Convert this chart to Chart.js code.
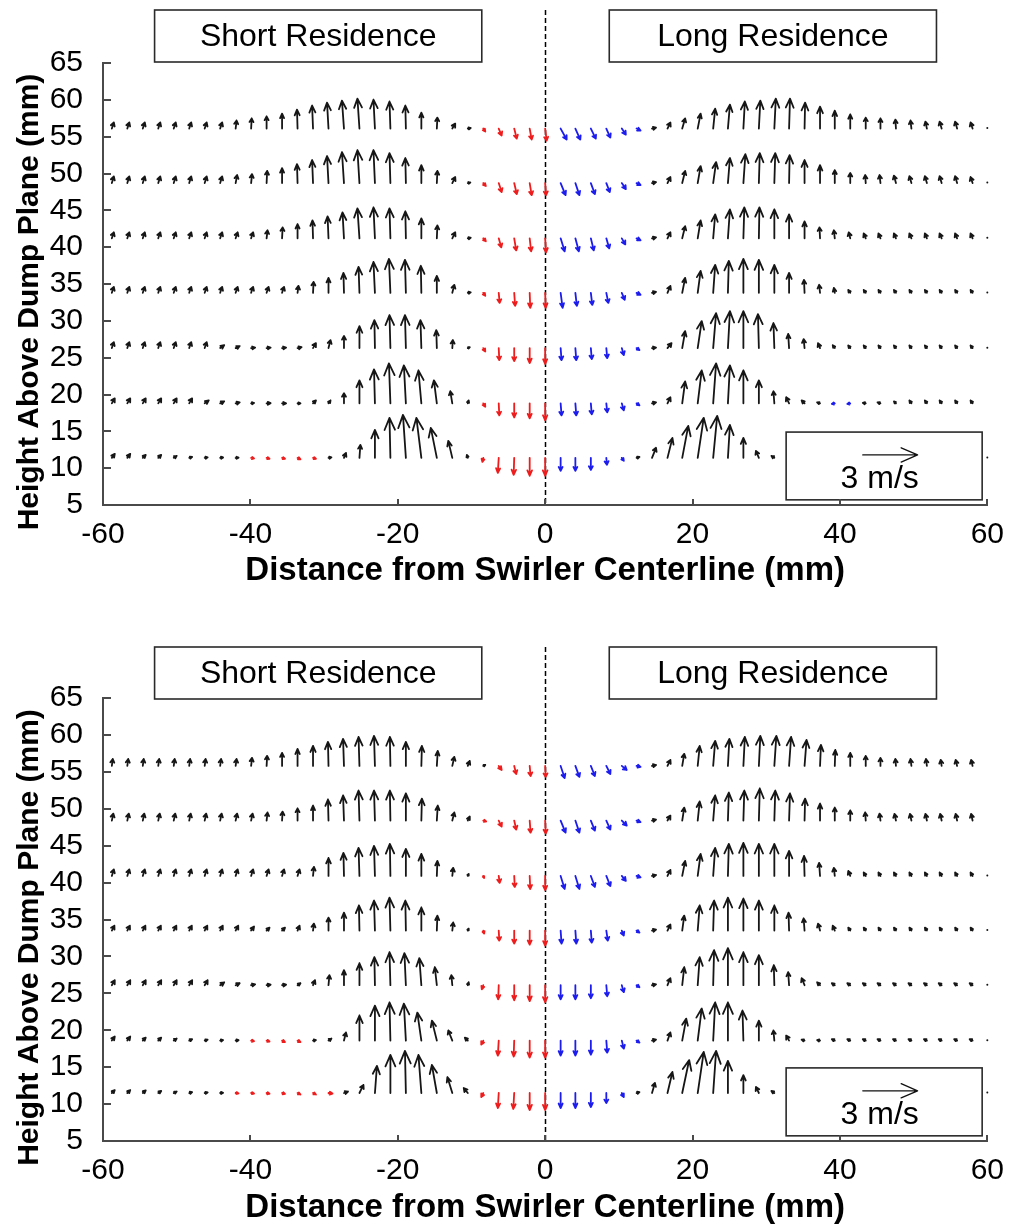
<!DOCTYPE html>
<html>
<head>
<meta charset="utf-8">
<script src="https://cdn.jsdelivr.net/npm/chart.js@4"></script>
<style>
  html, body { margin: 0; padding: 0; background: #ffffff; }
  #wrap { position: relative; width: 1016px; height: 1228px; background: #ffffff; }
  canvas { position: absolute; left: 0; }
</style>
</head>
<body>
<div id="wrap">
  <canvas id="topPanel" width="1016" height="637" style="top:0px"></canvas>
  <canvas id="bottomPanel" width="1016" height="591" style="top:637px"></canvas>
</div>
<script>
// ---------------------------------------------------------------
// Velocity field data (PIV grid), velocities in m/s
// ---------------------------------------------------------------

// Radial measurement positions (mm)
const xGrid = [
  -58.8, -56.7, -54.6, -52.5, -50.4, -48.3, -46.2, -44.1, -42.0, -39.9,
  -37.8, -35.7, -33.6, -31.5, -29.4, -27.3, -25.2, -23.1, -21.0, -18.9,
  -16.8, -14.7, -12.6, -10.5, -8.4, -6.3, -4.2, -2.1, 0,
  2.1, 4.1, 6.2, 8.3, 10.4, 12.4, 14.5, 16.6, 18.6, 20.7,
  22.8, 24.8, 26.9, 29.0, 31.1, 33.1, 35.2, 37.3, 39.3, 41.4,
  43.5, 45.5, 47.6, 49.7, 51.8, 53.8, 55.9, 58.0, 60.0
];

// Measurement heights above the dump plane (mm)
const topRowHeights = [56.1, 48.7, 41.2, 33.8, 26.3, 18.8, 11.4];
const bottomRowHeights = [55.8, 48.4, 40.9, 33.5, 26.1, 18.6, 11.5];

// Axis ticks
const xTickValues = [-60, -40, -20, 0, 20, 40, 60];
const yTickValues = [5, 10, 15, 20, 25, 30, 35, 40, 45, 50, 55, 60, 65];

// Labels
const leftCaseLabel = 'Short Residence';
const rightCaseLabel = 'Long Residence';
const xAxisTitle = 'Distance from Swirler Centerline (mm)';
const yAxisTitle = 'Height Above Dump Plane (mm)';
const referenceSpeed = 3; // m/s
const referenceLabel = '3 m/s';

// ---------------- Upper figure ----------------
const topU1 = [0.11,0.11,0.11,0.11,0.11,0.11,0.11,0.11,0.05,0.03,0,0,-0.03,-0.05,-0.08,-0.11,-0.11,-0.08,-0.05,-0.03,0,0.03,0.16,0.16,0.11,0.16,0.14,0.11,0.08,
  0.33,0.27,0.27,0.22,0.22,0.22,0.22,0.16,0.16,0.16,0.11,0.11,0.08,0.08,0.08,0.05,0.03,0,0,0,0,0,-0.03,-0.05,-0.08,-0.11,-0.11,-0.11,0];
const topV1 = [0.33,0.33,0.33,0.33,0.33,0.33,0.33,0.33,0.44,0.55,0.66,0.82,1.04,1.26,1.42,1.53,1.64,1.58,1.48,1.26,0.87,0.6,0.27,0.03,-0.16,-0.38,-0.55,-0.6,-0.66,
  -0.6,-0.6,-0.55,-0.49,-0.33,-0.11,0.05,0.33,0.55,0.82,1.09,1.31,1.48,1.53,1.64,1.64,1.42,1.2,0.98,0.77,0.6,0.55,0.49,0.44,0.38,0.38,0.38,0.33,0.05];

const topU2 = [0.11,0.11,0.11,0.11,0.11,0.11,0.11,0.11,0.08,0.05,0.03,0,-0.03,-0.05,-0.08,-0.11,-0.11,-0.08,-0.05,-0.03,0,0.03,0.16,0.14,0.14,0.16,0.14,0.11,0.05,
  0.27,0.22,0.22,0.19,0.22,0.22,0.22,0.16,0.16,0.16,0.16,0.11,0.11,0.05,0.05,0.03,0,0,0,0,-0.03,-0.05,-0.11,-0.11,-0.11,-0.11,-0.11,-0.11,0];
const topV2 = [0.36,0.36,0.36,0.36,0.36,0.36,0.36,0.36,0.44,0.49,0.66,0.82,1.04,1.26,1.48,1.69,1.8,1.8,1.64,1.37,0.98,0.66,0.33,0.03,-0.16,-0.49,-0.6,-0.66,-0.66,
  -0.66,-0.66,-0.6,-0.49,-0.33,-0.11,0.05,0.33,0.66,0.93,1.15,1.37,1.58,1.64,1.64,1.53,1.26,0.98,0.71,0.55,0.44,0.44,0.41,0.38,0.38,0.38,0.38,0.33,0.05];

const topU3 = [0.11,0.11,0.11,0.11,0.11,0.11,0.11,0.11,0.11,0.11,0.05,0.03,0,-0.03,-0.05,-0.08,-0.11,-0.08,-0.05,-0.03,0,0.03,0.16,0.16,0.14,0.14,0.11,0.08,0.05,
  0.22,0.19,0.16,0.16,0.19,0.22,0.22,0.16,0.16,0.16,0.11,0.11,0.05,0.03,0,0,0,-0.03,-0.05,-0.08,-0.11,-0.11,-0.11,-0.11,-0.11,-0.11,-0.11,-0.11,0];
const topV3 = [0.33,0.33,0.33,0.33,0.33,0.33,0.33,0.33,0.33,0.33,0.44,0.6,0.77,0.98,1.2,1.42,1.64,1.69,1.64,1.48,1.09,0.71,0.33,0.03,-0.16,-0.49,-0.66,-0.71,-0.77,
  -0.71,-0.71,-0.66,-0.55,-0.33,-0.11,0.05,0.33,0.66,0.98,1.31,1.58,1.69,1.69,1.58,1.31,0.93,0.6,0.44,0.33,0.27,0.27,0.27,0.27,0.27,0.27,0.27,0.27,0.05];

const topU4 = [0.11,0.11,0.11,0.11,0.11,0.11,0.11,0.11,0.11,0.11,0.11,0.11,0.05,0.03,0,-0.03,-0.05,-0.08,-0.08,-0.05,-0.03,0,0.11,0.16,0.11,0.05,0.05,0.03,0.03,
  0.11,0.08,0.08,0.11,0.16,0.22,0.22,0.16,0.16,0.16,0.11,0.05,0,0,0,0,-0.03,-0.05,-0.05,-0.11,-0.11,-0.11,-0.11,-0.11,-0.11,-0.11,-0.11,-0.11,0];
const topV4 = [0.33,0.33,0.33,0.33,0.33,0.33,0.33,0.33,0.33,0.33,0.33,0.33,0.38,0.6,0.82,1.09,1.42,1.69,1.86,1.8,1.48,0.93,0.44,0.03,-0.16,-0.55,-0.71,-0.82,-0.82,
  -0.82,-0.71,-0.66,-0.55,-0.38,-0.11,0.05,0.38,0.82,1.2,1.53,1.75,1.86,1.8,1.53,1.09,0.71,0.44,0.27,0.16,0.16,0.16,0.16,0.16,0.16,0.16,0.16,0.16,0.05];

const topU5 = [0.11,0.11,0.11,0.11,0.11,0.11,0.11,0.22,0.22,0.22,0.22,0.22,0.22,0.16,0.11,0,0,-0.03,-0.05,-0.05,-0.05,-0.03,0.03,0.11,0.11,0.03,0,0,0,
  0.05,0.05,0.05,0.05,0.11,0.16,0.22,0.22,0.16,0.22,0.16,0.11,0,-0.05,-0.05,-0.05,-0.05,-0.11,-0.11,-0.11,-0.11,-0.11,-0.11,-0.11,-0.11,-0.11,-0.11,-0.11,0];
const topV5 = [0.33,0.33,0.33,0.33,0.33,0.33,0.33,0.16,0.11,0.03,0.03,0.03,0.05,0.27,0.44,0.66,1.2,1.53,1.8,1.8,1.53,0.98,0.44,0.05,-0.19,-0.66,-0.71,-0.82,-0.87,
  -0.66,-0.66,-0.6,-0.55,-0.38,-0.11,0.03,0.27,0.93,1.48,1.91,2.02,2.02,1.86,1.37,0.77,0.49,0.27,0.16,0.14,0.14,0.14,0.14,0.14,0.14,0.14,0.14,0.14,0.05];

const topU6 = [0.16,0.16,0.16,0.16,0.16,0.16,0.22,0.22,0.22,0.16,0.22,0.22,0.16,0.16,0.11,0,0,-0.05,-0.08,-0.11,-0.16,-0.16,-0.11,0.05,0.11,0.03,0,0,0,
  0.05,0.05,0.05,0.05,0.11,0.16,0.22,0.16,0.16,0.22,0.16,0.11,0,0,-0.05,-0.16,-0.16,-0.16,-0.16,-0.16,-0.16,-0.16,-0.11,-0.11,-0.11,-0.11,-0.11,-0.11,null];
const topV6 = [0.27,0.27,0.27,0.27,0.27,0.27,0.16,0.11,0.05,0.02,0.01,0,0,0.16,0.16,0.55,1.26,1.86,2.19,2.08,1.8,1.26,0.66,0.16,-0.19,-0.66,-0.77,-0.82,-0.93,
  -0.66,-0.66,-0.6,-0.49,-0.38,-0.11,0.05,0.33,1.2,1.8,2.19,2.08,1.8,1.26,0.66,0.33,0.16,0.05,-0.03,-0.03,0.03,0.05,0.11,0.16,0.16,0.16,0.16,0.16,null];

const topU7 = [0.16,0.16,0.16,0.16,0.16,0.16,0.16,0.16,0.16,0.16,0.16,0.16,0.16,0.16,0.16,0.11,0.05,0,-0.05,-0.16,-0.27,-0.33,-0.22,-0.05,-0.05,-0.05,-0.03,0,0,
  0,0,0,0.03,0.11,0.16,0.22,0.27,0.33,0.33,0.22,0.11,0,-0.16,-0.16,-0.11,-0.11,-0.11,-0.11,-0.11,-0.11,-0.11,-0.11,-0.11,-0.11,-0.11,-0.11,-0.11,0];
const topV7 = [0.22,0.22,0.16,0.16,0.11,0.05,0.03,0.02,0.01,-0.03,-0.05,-0.05,-0.08,-0.05,0.03,0.27,0.71,1.53,2.19,2.35,2.19,1.64,0.93,0.16,-0.22,-0.82,-0.93,-0.98,-0.98,
  -0.71,-0.71,-0.66,-0.38,-0.16,0.05,0.55,1.09,1.75,2.19,2.3,1.8,1.09,0.38,0.11,0.11,0.11,0.11,0.11,0.11,0.11,0.11,0.11,0.11,0.11,0.11,0.11,0.11,0.05];

// ---------------- Lower figure ----------------
const botU1 = [0.05,0.05,0.05,0.05,0.05,0.05,0.05,0.05,0.05,0.05,0.03,0,0,0,-0.03,-0.05,-0.05,-0.05,-0.03,0,0.03,0.05,0.11,0.11,0.11,0.16,0.11,0.05,0.03,
  0.22,0.22,0.22,0.22,0.27,0.22,0.22,0.16,0.11,0.11,0.11,0.08,0.08,0.08,0.11,0.11,0.11,0.05,0.03,0,0,0,-0.03,-0.05,-0.05,-0.05,-0.08,-0.08,null];
const botV1 = [0.38,0.38,0.38,0.38,0.38,0.38,0.38,0.38,0.38,0.44,0.55,0.71,0.93,1.09,1.31,1.48,1.58,1.64,1.58,1.31,1.09,0.82,0.49,0.27,0.05,-0.22,-0.44,-0.55,-0.6,
  -0.66,-0.6,-0.55,-0.44,-0.22,-0.05,0.05,0.33,0.66,1.09,1.37,1.48,1.58,1.64,1.64,1.58,1.42,1.15,0.87,0.71,0.55,0.44,0.38,0.38,0.38,0.33,0.33,0.33,null];

const botU2 = [0.08,0.08,0.08,0.08,0.08,0.08,0.08,0.08,0.08,0.08,0.05,0.03,0,0,-0.03,-0.05,-0.05,-0.05,-0.03,0,0.03,0.05,0.11,0.11,0.16,0.16,0.11,0.05,0.03,
  0.27,0.22,0.22,0.22,0.27,0.22,0.22,0.16,0.11,0.11,0.11,0.05,0.05,0.05,0.05,0.05,0.03,0,0,0,-0.03,-0.05,-0.08,-0.08,-0.08,-0.08,-0.08,-0.08,null];
const botV2 = [0.38,0.38,0.38,0.38,0.38,0.38,0.38,0.38,0.38,0.38,0.44,0.49,0.66,0.82,1.15,1.37,1.64,1.64,1.64,1.48,1.2,0.82,0.44,0.22,-0.05,-0.33,-0.49,-0.66,-0.71,
  -0.66,-0.66,-0.55,-0.49,-0.27,-0.08,0.05,0.27,0.71,1.04,1.37,1.53,1.64,1.75,1.64,1.48,1.2,0.93,0.71,0.55,0.44,0.38,0.36,0.36,0.36,0.36,0.36,0.36,null];

const botU3 = [0.11,0.11,0.11,0.11,0.11,0.11,0.11,0.11,0.11,0.11,0.11,0.11,0.11,0.05,0,-0.03,-0.05,-0.05,-0.03,0,0,0.03,0.05,0.05,0.05,0.05,0.03,0.03,0,
  0.22,0.22,0.22,0.22,0.22,0.22,0.22,0.16,0.16,0.16,0.11,0.05,0,0,0,0,-0.03,-0.05,-0.05,-0.11,-0.11,-0.11,-0.11,-0.11,-0.11,-0.11,-0.11,-0.11,0];
const botV3 = [0.36,0.36,0.36,0.36,0.36,0.36,0.36,0.36,0.36,0.36,0.36,0.36,0.36,0.49,0.98,1.26,1.53,1.64,1.75,1.48,1.2,0.82,0.44,0.11,-0.11,-0.38,-0.6,-0.71,-0.77,
  -0.71,-0.71,-0.6,-0.55,-0.27,-0.08,0.05,0.33,0.82,1.2,1.53,1.75,1.8,1.75,1.75,1.37,1.09,0.71,0.44,0.27,0.19,0.19,0.19,0.19,0.19,0.19,0.19,0.19,0.05];

const botU4 = [0.14,0.14,0.14,0.14,0.14,0.14,0.14,0.14,0.14,0.16,0.16,0.16,0.11,0.05,0,0,-0.03,-0.05,-0.05,-0.03,0,0.03,0.05,0.05,0.05,0.03,0,0,0,
  0.05,0.05,0.05,0.08,0.11,0.16,0.22,0.16,0.11,0.11,0.05,0,0,0,0,-0.03,-0.05,-0.11,-0.11,-0.11,-0.11,-0.11,-0.11,-0.11,-0.11,-0.11,-0.11,-0.11,0];
const botV4 = [0.27,0.27,0.27,0.27,0.27,0.27,0.27,0.27,0.27,0.22,0.16,0.16,0.27,0.38,0.71,0.98,1.37,1.64,1.8,1.64,1.26,0.82,0.44,0.11,-0.16,-0.55,-0.71,-0.77,-0.82,
  -0.71,-0.71,-0.66,-0.55,-0.27,-0.11,0.05,0.33,0.82,1.37,1.64,1.8,1.75,1.64,1.37,0.98,0.66,0.38,0.27,0.16,0.16,0.16,0.16,0.16,0.16,0.16,0.16,0.16,0.05];

const botU5 = [0.16,0.16,0.16,0.16,0.16,0.16,0.16,0.22,0.22,0.22,0.22,0.22,0.16,0.11,0.05,0,0,-0.03,-0.05,-0.08,-0.11,-0.11,-0.05,0.05,-0.08,-0.03,0,0,0,
  0,0,0,0.05,0.11,0.16,0.22,0.16,0.11,0.11,0.05,0,0,0,-0.03,-0.05,-0.16,-0.16,-0.16,-0.16,-0.16,-0.16,-0.16,-0.16,-0.16,-0.16,-0.16,-0.16,0];
const botV5 = [0.27,0.27,0.27,0.27,0.27,0.27,0.27,0.16,0.11,0.05,0.03,0.03,0.11,0.27,0.55,0.82,1.2,1.53,1.8,1.75,1.48,0.98,0.55,0.16,-0.22,-0.77,-0.82,-0.87,-0.93,
  -0.77,-0.77,-0.71,-0.6,-0.38,-0.11,0.05,0.38,0.98,1.53,1.91,2.02,1.8,1.64,1.09,0.71,0.38,0.16,0.11,0.11,0.11,0.11,0.11,0.11,0.11,0.11,0.11,0.11,0.05];

const botU6 = [0.16,0.16,0.16,0.16,0.16,0.16,0.16,0.16,0.16,0.16,0.16,0.16,0.16,0.16,0.16,0.11,0,0,-0.05,-0.11,-0.22,-0.27,-0.22,-0.16,-0.11,-0.05,-0.03,0,0,
  0,0,0,0.05,0.11,0.16,0.22,0.16,0.22,0.22,0.11,0,-0.05,0,-0.05,-0.16,-0.16,-0.16,-0.16,-0.16,-0.16,-0.16,-0.16,-0.16,-0.16,-0.16,-0.16,-0.16,0];
const botV6 = [0.22,0.22,0.16,0.16,0.11,0.08,0.05,0.03,0.02,-0.03,-0.05,-0.08,-0.08,0.03,0.11,0.44,1.37,1.91,2.08,2.02,1.53,1.09,0.55,0.16,-0.22,-0.82,-0.87,-0.93,-0.93,
  -0.82,-0.82,-0.77,-0.66,-0.44,-0.11,0.05,0.44,1.2,1.75,2.08,2.08,1.64,1.09,0.55,0.27,0.05,0.03,0.08,0.08,0.08,0.08,0.08,0.08,0.08,0.08,0.08,0.08,0.05];

const botU7 = [0.16,0.16,0.16,0.16,0.16,0.16,0.16,0.16,0.16,0.16,0.16,0.16,0.16,0.16,0.22,0.22,0.22,0.11,0,-0.05,-0.16,-0.27,-0.27,-0.22,-0.11,-0.05,-0.05,0,0,
  0,0,0,0,0.11,0.16,0.16,0.27,0.38,0.33,0.16,0,0,-0.16,-0.16,-0.11,-0.11,-0.11,-0.11,-0.11,-0.11,-0.11,-0.11,-0.11,-0.11,-0.11,-0.11,-0.11,0];
const botV7 = [0.16,0.16,0.14,0.11,0.08,0.05,0.03,0.01,-0.02,-0.03,-0.04,-0.05,-0.08,-0.08,-0.03,0.08,0.44,1.48,2.08,2.3,2.08,1.53,0.87,0.27,-0.22,-0.82,-0.87,-0.93,-0.93,
  -0.82,-0.82,-0.77,-0.55,-0.22,0.05,0.55,1.15,1.8,2.24,2.3,1.75,0.98,0.33,0.11,0.11,0.11,0.11,0.11,0.11,0.11,0.11,0.11,0.11,0.11,0.11,0.11,0.11,0.05];

// ---------------------------------------------------------------
// Drawing
// ---------------------------------------------------------------
const FONT = "'Liberation Sans', Arial, Helvetica, sans-serif";
const MM_PER_MPS = 7.44 / 3;          // vector length (axis units) of 1 m/s
const COLOR_UP = '#161616';
const COLOR_DOWN_LEFT = '#ee1c1c';
const COLOR_DOWN_RIGHT = '#1c1cee';
const AXIS_COLOR = '#4a4a4a';

function drawVector(ctx, x0, y0, x1, y1, color, width) {
  const dx = x1 - x0, dy = y1 - y0;
  const len = Math.hypot(dx, dy);
  ctx.strokeStyle = color;
  ctx.fillStyle = color;
  ctx.lineWidth = width;
  ctx.lineCap = 'round';
  ctx.lineJoin = 'round';
  if (len < 1.5) {
    ctx.beginPath();
    ctx.arc(x0 + dx / 2, y0 + dy / 2, 1.0, 0, Math.PI * 2);
    ctx.fill();
    return;
  }
  const ex = dx / len, ey = dy / len;
  const nx = -ey, ny = ex;
  const head = Math.max(0.3 * len, Math.min(3.5, 0.7 * len));
  const half = Math.max(0.13 * len, Math.min(2.0, 0.35 * len));
  const bx = x1 - ex * head, by = y1 - ey * head;
  ctx.beginPath();
  ctx.moveTo(x0, y0);
  ctx.lineTo(x1, y1);
  ctx.moveTo(bx + nx * half, by + ny * half);
  ctx.lineTo(x1, y1);
  ctx.lineTo(bx - nx * half, by - ny * half);
  ctx.stroke();
}

function vectorColor(x, v) {
  if (v < 0) return x <= 0 ? COLOR_DOWN_LEFT : COLOR_DOWN_RIGHT;
  return COLOR_UP;
}

function drawBoxedText(ctx, x0, y0, x1, y1, text, size) {
  ctx.save();
  ctx.fillStyle = '#ffffff';
  ctx.fillRect(x0, y0, x1 - x0, y1 - y0);
  ctx.strokeStyle = '#2a2a2a';
  ctx.lineWidth = 1.6;
  ctx.strokeRect(x0, y0, x1 - x0, y1 - y0);
  if (text) {
    ctx.fillStyle = '#000';
    ctx.font = size + 'px ' + FONT;
    ctx.textAlign = 'center';
    ctx.textBaseline = 'middle';
    ctx.fillText(text, (x0 + x1) / 2, (y0 + y1) / 2 + 1);
  }
  ctx.restore();
}

function buildPanel(cfg) {
  const canvas = document.getElementById(cfg.id);
  const datasets = cfg.rows.map((y, r) => ({
    label: 'z = ' + y + ' mm',
    data: xGrid.map((x, i) => ({ x: x, y: y, u: cfg.u[r][i], v: cfg.v[r][i] })),
    pointRadius: 0,
    pointHoverRadius: 0,
    showLine: false
  }));

  const quiverPlugin = {
    id: 'quiver',
    beforeDatasetsDraw(chart) {
      const { ctx, chartArea, scales: { x: xs } } = chart;
      // centerline
      const cx = Math.round(xs.getPixelForValue(0)) + 0.5;
      ctx.save();
      ctx.strokeStyle = '#000';
      ctx.lineWidth = 1.5;
      ctx.setLineDash([5, 3]);
      ctx.beginPath();
      ctx.moveTo(cx, cfg.captionTop);
      ctx.lineTo(cx, chartArea.bottom);
      ctx.stroke();
      ctx.restore();
    },
    afterDatasetsDraw(chart) {
      const { ctx, scales: { x: xs, y: ys } } = chart;
      ctx.save();
      chart.data.datasets.forEach(ds => {
        ds.data.forEach(p => {
          if (p.u === null || p.v === null) return;
          const x0 = xs.getPixelForValue(p.x);
          const y0 = ys.getPixelForValue(p.y);
          const x1 = xs.getPixelForValue(p.x + p.u * MM_PER_MPS);
          const y1 = ys.getPixelForValue(p.y + p.v * MM_PER_MPS);
          drawVector(ctx, x0, y0, x1, y1, vectorColor(p.x, p.v), 1.8);
        });
      });
      ctx.restore();

      // reference vector box
      const bx0 = xs.getPixelForValue(32.7), bx1 = xs.getPixelForValue(59.3);
      const by0 = ys.getPixelForValue(14.9), by1 = ys.getPixelForValue(5.7);
      drawBoxedText(ctx, bx0, by0, bx1, by1, '', 0);
      const rx0 = xs.getPixelForValue(43.1), ry = ys.getPixelForValue(11.8);
      const rx1 = xs.getPixelForValue(43.1 + referenceSpeed * MM_PER_MPS);
      ctx.save();
      drawVector(ctx, rx0, ry, rx1, ry, '#111', 1.3);
      ctx.fillStyle = '#000';
      ctx.font = '32px ' + FONT;
      ctx.textAlign = 'center';
      ctx.textBaseline = 'middle';
      ctx.fillText(referenceLabel, xs.getPixelForValue(45.4), ys.getPixelForValue(8.5));
      ctx.restore();
    },
    afterDraw(chart) {
      const { ctx, chartArea, scales: { x: xs, y: ys } } = chart;
      ctx.save();
      // inward tick marks
      ctx.strokeStyle = AXIS_COLOR;
      ctx.lineWidth = 2;
      ctx.beginPath();
      yTickValues.forEach(v => {
        const py = Math.round(ys.getPixelForValue(v));
        ctx.moveTo(chartArea.left, py);
        ctx.lineTo(chartArea.left + 8, py);
      });
      xTickValues.forEach(v => {
        const px = Math.round(xs.getPixelForValue(v));
        ctx.moveTo(px, chartArea.bottom);
        ctx.lineTo(px, chartArea.bottom - 6);
      });
      ctx.stroke();

      // case captions
      drawBoxedText(ctx, xs.getPixelForValue(-53.0), cfg.captionTop,
        xs.getPixelForValue(-8.6), cfg.captionTop + 52, leftCaseLabel, 32);
      drawBoxedText(ctx, xs.getPixelForValue(8.7), cfg.captionTop,
        xs.getPixelForValue(53.1), cfg.captionTop + 52, rightCaseLabel, 32);

      // axis titles
      ctx.fillStyle = '#000';
      ctx.textAlign = 'center';
      ctx.textBaseline = 'middle';
      ctx.font = 'bold 33px ' + FONT;
      ctx.fillText(xAxisTitle, (chartArea.left + chartArea.right) / 2, cfg.xTitleY);
      ctx.font = 'bold 30px ' + FONT;
      ctx.translate(30, (chartArea.top + chartArea.bottom) / 2 + 18);
      ctx.rotate(-Math.PI / 2);
      ctx.fillText(yAxisTitle, 0, 0);
      ctx.restore();
    }
  };

  return new Chart(canvas, {
    type: 'scatter',
    data: { datasets: datasets },
    options: {
      responsive: false,
      animation: false,
      devicePixelRatio: 1,
      events: [],
      layout: { padding: { top: cfg.areaTop, right: 26, left: 0, bottom: 0 }, autoPadding: false },
      plugins: { legend: { display: false }, tooltip: { enabled: false } },
      scales: {
        x: {
          type: 'linear', min: -60, max: 60,
          afterBuildTicks: s => { s.ticks = xTickValues.map(v => ({ value: v })); },
          afterFit: s => { s.height = cfg.height - cfg.areaBottom; },
          grid: { display: false, drawTicks: false },
          border: { display: true, color: AXIS_COLOR, width: 2 },
          ticks: {
            color: '#000', padding: 12, maxRotation: 0, autoSkip: false,
            font: { family: FONT, size: 30 },
            callback: v => String(v)
          }
        },
        y: {
          type: 'linear', min: 5, max: 65,
          afterBuildTicks: s => { s.ticks = yTickValues.map(v => ({ value: v })); },
          afterFit: s => { s.width = 103; },
          grid: { display: false, drawTicks: false },
          border: { display: true, color: AXIS_COLOR, width: 2 },
          ticks: {
            color: '#000', padding: 20, autoSkip: false,
            font: { family: FONT, size: 30 },
            callback: v => String(v)
          }
        }
      }
    },
    plugins: [quiverPlugin]
  });
}

buildPanel({
  id: 'topPanel', height: 637, areaTop: 63, areaBottom: 505, captionTop: 10, xTitleY: 571,
  rows: topRowHeights,
  u: [topU1, topU2, topU3, topU4, topU5, topU6, topU7],
  v: [topV1, topV2, topV3, topV4, topV5, topV6, topV7]
});

buildPanel({
  id: 'bottomPanel', height: 591, areaTop: 61, areaBottom: 504, captionTop: 10, xTitleY: 571,
  rows: bottomRowHeights,
  u: [botU1, botU2, botU3, botU4, botU5, botU6, botU7],
  v: [botV1, botV2, botV3, botV4, botV5, botV6, botV7]
});
</script>
</body>
</html>
